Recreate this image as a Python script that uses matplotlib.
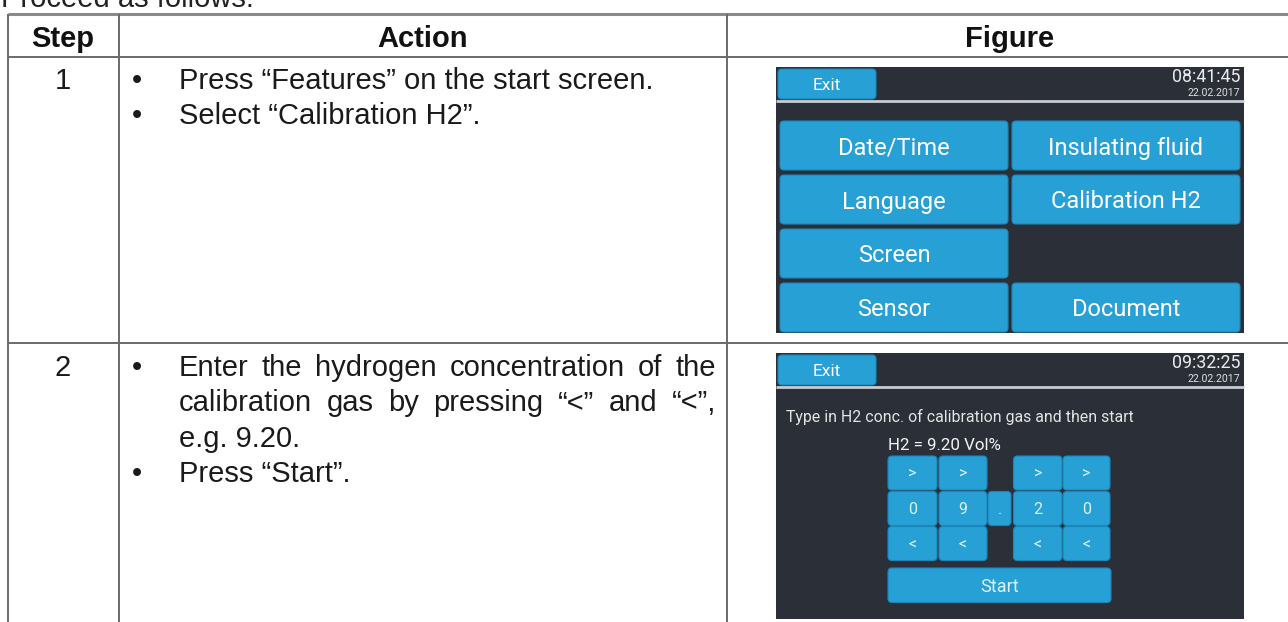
import matplotlib
matplotlib.use("Agg")
import matplotlib.pyplot as plt
from matplotlib.patches import FancyBboxPatch

# ---- content ----
intro_text = "Proceed as follows:"
headers = ["Step", "Action", "Figure"]
steps = ["1", "2"]
# each bullet is a list of wrapped lines; True = justified line
step1_bullets = [[("Press “Features” on the start screen.", False)],
                 [("Select “Calibration H2”.", False)]]
step2_bullets = [[("Enter the hydrogen concentration of the", True),
                  ("calibration gas by pressing “<” and “<”,", True),
                  ("e.g. 9.20.", False)],
                 [("Press “Start”.", False)]]

exit_label = "Exit"
screen1_time = "08:41:45"
screen1_date = "22.02.2017"
menu_buttons = [["Date/Time", "Insulating fluid"],
                ["Language", "Calibration H2"],
                ["Screen", None],
                ["Sensor", "Document"]]

screen2_time = "09:32:25"
screen2_date = "22.02.2017"
prompt = "Type in H2 conc. of calibration gas and then start"
h2_value = "H2 = 9.20 Vol%"
keypad = [[">", ">", None, ">", ">"],
          ["0", "9", ".", "2", "0"],
          ["<", "<", None, "<", "<"]]
start_label = "Start"

W, H = 1288, 622
BLUE = "#27a0d6"
EDGE = "#1d86b8"
DARK = "#2b2f38"
LINE = "#6a6a6a"
TXT = "Liberation Sans"
UI = "Roboto"
KEYTXT = "#dcf0fa"

fig = plt.figure(figsize=(W / 100, H / 100), dpi=100)
ax = fig.add_axes([0, 0, 1, 1])
ax.set_xlim(0, W)
ax.set_ylim(H, 0)
ax.axis("off")
renderer = fig.canvas.get_renderer()


def button(x0, y0, x1, y1, label, fs, weight="normal", color="white"):
    ax.add_patch(FancyBboxPatch((x0, y0), x1 - x0, y1 - y0,
                                boxstyle="round,pad=0,rounding_size=4",
                                fc=BLUE, ec=EDGE, lw=0.8))
    if label:
        ax.text((x0 + x1) / 2, (y0 + y1) / 2, label, ha="center", va="center_baseline",
                fontsize=fs, family=UI, fontweight=weight, color=color)


def justified(line, x0, x1, y, **kw):
    words = line.split(" ")
    texts = [ax.text(0, y, w, **kw) for w in words]
    widths = [t.get_window_extent(renderer).width for t in texts]
    gap = (x1 - x0 - sum(widths)) / (len(words) - 1)
    x = x0
    for t, w in zip(texts, widths):
        t.set_x(x)
        x += w + gap


def screen_top(y0, time_s, date_s):
    ax.add_patch(plt.Rectangle((776, y0), 468, 266, fc=DARK, ec="none"))
    button(778, y0 + 2, 876, y0 + 32, exit_label, 12.5)
    ax.text(1240, y0 + 10, time_s, ha="right", va="center", fontsize=12.8,
            family=UI, color="#ececec")
    ax.text(1240, y0 + 26, date_s, ha="right", va="center", fontsize=7.6,
            family=UI, color="#e0e0e0")
    ax.plot([776, 1244], [y0 + 33.5, y0 + 33.5], color="#c9ccd0", lw=2, solid_capstyle="butt")


# ---- page text and table ----
ax.text(1, 7, intro_text, ha="left", va="baseline", fontsize=21, family=TXT, color="#222")

lk = dict(color=LINE, lw=1.4, solid_capstyle="butt")
ax.plot([8, W], [14, 14], color="#8a8a8a", lw=2.2, solid_capstyle="butt")
ax.plot([8, W], [57, 57], **lk)
ax.plot([8, W], [342.5, 342.5], **lk)
for x in (8, 119, 727.5):
    ax.plot([x, x], [14, H], **lk)

for cx, h in zip((63, 423, 1010), headers):
    ax.text(cx, 47, h, ha="center", va="baseline", fontsize=21, family=TXT,
            fontweight="bold", color="#111")

body = dict(fontsize=21, family=TXT, color="#1a1a1a", va="baseline")
for step, bullets, y_first in ((steps[0], step1_bullets, 89), (steps[1], step2_bullets, 376)):
    ax.text(63, y_first, step, ha="center", **body)
    y = y_first
    for bullet in bullets:
        ax.text(137, y, "•", ha="center", **body)
        for line, just in bullet:
            if just:
                justified(line, 179, 716, y, ha="left", **body)
            else:
                ax.text(179, y, line, ha="left", **body)
            y += 35.3

# ---- screen 1: features menu ----
screen_top(67, screen1_time, screen1_date)
cols = [(780, 1008), (1012, 1240)]
for r, row in enumerate(menu_buttons):
    y0 = 121 + r * 54
    for (x0, x1), label in zip(cols, row):
        if label:
            button(x0, y0, x1, y0 + 49, label, 17)

# ---- screen 2: calibration input ----
screen_top(353, screen2_time, screen2_date)
ax.text(786, 417, prompt, ha="left", va="center", fontsize=11.4, family=UI,
        color="#e4e4e4")
ax.text(888, 446, h2_value, ha="left", va="center", fontsize=12.2, family=UI, color="#f4f4f4")

key_cols = [(888, 937), (939, 987), (988, 1011), (1013.5, 1062), (1063, 1110)]
key_rows = [(456, 490), (491.5, 525.5), (526.5, 560.5)]
for (y0, y1), row in zip(key_rows, keypad):
    for (x0, x1), label in zip(key_cols, row):
        if label:
            button(x0, y0, x1, y1, label, 11.5, color=KEYTXT)
button(888, 568, 1111, 602.5, start_label, 13, color=KEYTXT)

fig.savefig("out.png", dpi=100)
